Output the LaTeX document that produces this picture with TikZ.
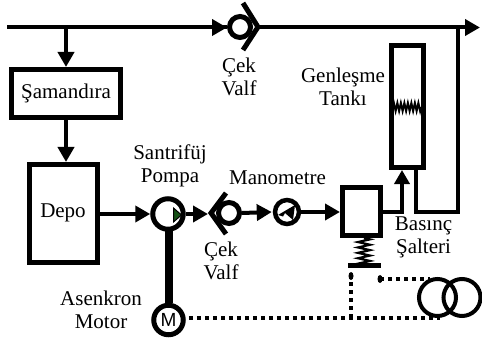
\documentclass[tikz,border=0pt]{standalone}
\usepackage{fontspec}
\setmainfont{Liberation Serif}
\newfontfamily\msans{Liberation Sans}
\usetikzlibrary{arrows.meta,decorations.pathmorphing}
\tikzset{
  lbl/.style={font=\fontsize{21}{23}\selectfont,align=center,inner sep=0pt},
  pipe/.style={line width=4pt,-{Triangle[length=15pt,width=16pt]}},
  plain/.style={line width=4pt},
  thickbox/.style={draw,line width=5pt,inner sep=0pt},
  ring/.style={draw,circle,inner sep=0pt,fill=white},
  chev/.style={line width=5pt,miter limit=3},
  dots/.style={line width=4pt,dash pattern=on 4pt off 4pt},
  sprg/.style={line width=2pt,decorate,decoration={zigzag,amplitude=4pt,segment length=3.5pt}}
}
\begin{document}
\begin{tikzpicture}[x=1pt,y=-1pt]
\useasboundingbox (0,0) rectangle (482,342);
% nodes
\node[thickbox,minimum width=109pt,minimum height=48pt] (sam) at (66,93.5) {};
\node[lbl] at (sam.center) {Şamandıra};
\node[thickbox,minimum width=68pt,minimum height=98pt] (depo) at (63.5,213.5) {};
\node[lbl] at (63,213) {Depo};
\node[thickbox,minimum width=32pt,minimum height=122pt] (tank) at (407.5,106.5) {};
\node[thickbox,minimum width=38pt,minimum height=48pt] (sw) at (361.5,211.5) {};
\node[ring,line width=5pt,minimum size=21pt] (cv1) at (240,27) {};
\node[ring,line width=5pt,minimum size=30.5pt] (pump) at (168,214) {};
\node[ring,line width=5pt,minimum size=21pt] (cv2) at (229,213) {};
\node[ring,line width=4.5pt,minimum size=24pt] (mano) at (287,212) {};
\node[ring,line width=5pt,minimum size=29.5pt] (mot) at (168.5,320) {};
\node[font=\msans\fontsize{19}{19}\selectfont,inner sep=0pt] at (mot.center) {M};
\coordinate (ls) at (7,27.5);
\coordinate (le) at (480,27.5);
\coordinate (t1) at (66,27.5);
\coordinate (vin) at (227,27.5);
\coordinate (vout) at (258,27.5);
\coordinate (retB) at (416,212);
\coordinate (retR) at (457.5,212);
\coordinate (retT) at (457.5,27.5);
\coordinate (up) at (402,212);
% pipes
\draw[plain] (ls) -- (vin);
\draw[pipe] (t1) -- (t1 |- sam.north);
\draw[pipe] (sam.south) -- (sam.south |- depo.north);
\draw[pipe] (ls) ++(200,0) -- (vin);
\draw[pipe] (vout) -- (le);
\draw[line width=4pt] (416,170) -- (retB) -- (retR) -- (retT);
\draw[pipe] (depo.east |- pump.west) -- (pump.west);
\draw[pipe] (pump.east) -- (208,214);
\draw[pipe] (cv2.east) -- ([xshift=-1pt]mano.west);
\draw[pipe] (mano.east) -- (sw.west |- mano.east);
\draw[line width=4.5pt,-{Triangle[length=14pt,width=15pt]}] (sw.east |- up) -- (up) -- (402,170);
% check valves
\draw[chev] (243,3) -- (258,27) -- (243,50);
\draw[chev] (226,193) -- (211,213) -- (226,234);
% pump marker
\draw[fill={rgb,255:red,20;green,80;blue,20},line width=1pt] (173.5,208) -- (181.5,215) -- (173.5,222) -- cycle;
% shaft
\draw[line width=8pt] (169,231) -- (169,303);
% manometer needle
\fill (295,205) -- (278,215) -- (283,216.5) -- (285,213) -- (293,220) -- cycle;
% tank spring
\draw[sprg] (393,107) -- (421,107);
% switch spring
\coordinate (pl) at (364,265);
\draw[sprg,line width=2.2pt,decoration={amplitude=6pt,segment length=5.4pt}] (364,238) -- (pl);
\draw[line width=5pt] (348,265) -- (381,265);
% dotted lines
\coordinate (d1) at (351,276);
\coordinate (d2) at (380,279);
\fill (d1) ellipse [x radius=2.5pt,y radius=4pt];
\fill (d2) ellipse [x radius=2.5pt,y radius=4pt];
\draw[dots] (351,282) -- (351,318);
\draw[dots] (mot.east) ++(3,-2) -- (440,318);
\draw[dots] (d2) -- (430,279);
% transformer
\draw[line width=4pt] (437.5,297.5) circle [radius=18.5pt];
\draw[line width=4pt] (462,297.5) circle [radius=18.5pt];
% labels
\node[lbl] at (239,77) {Çek\\Valf};
\node[lbl] at (343,87) {Genleşme\\Tankı};
\node[lbl] at (170,165.5) {Santrifüj\\Pompa};
\node[lbl] at (277.5,178) {Manometre};
\node[lbl] at (221,261) {Çek\\Valf};
\node[lbl] at (423.5,237.5) {Basınç\\Şalteri};
\node[lbl] at (101,309.5) {Asenkron\\Motor};
\end{tikzpicture}
\end{document}
